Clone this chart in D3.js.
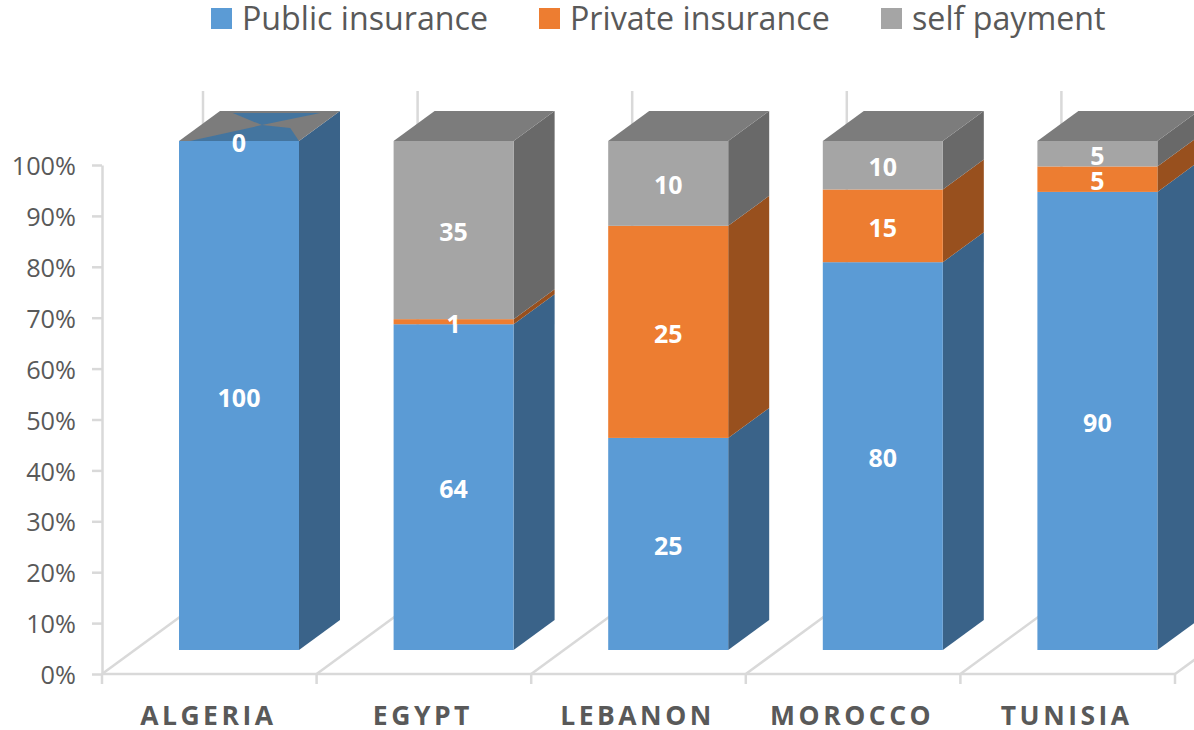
<!DOCTYPE html>
<html>
<head>
<meta charset="utf-8">
<script src="https://cdn.jsdelivr.net/npm/d3@7"></script>
<style>
html, body { margin: 0; padding: 0; background: #fff; overflow: hidden; }
svg { display: block; font-family: "Open Sans", sans-serif; }
.axis .domain, .axis line { stroke: #d9d9d9; stroke-width: 2.5; }
.axis text { fill: #595959; font-family: "Open Sans", sans-serif; font-size: 25.3px; }
.grid { stroke: #d9d9d9; stroke-width: 2.5; fill: none; }
.catLabel { fill: #595959; font-size: 26.5px; font-weight: 700; letter-spacing: 3.5px; text-anchor: middle; }
.barLabel { fill: #fff; font-size: 25px; font-weight: 700; text-anchor: middle; }
.legendText { fill: #595959; font-size: 32.2px; }
</style>
</head>
<body>
<script>
//chart values
var categories = ["ALGERIA", "EGYPT", "LEBANON", "MOROCCO", "TUNISIA"];
var publicInsurance = [100, 64, 25, 80, 90];
var privateInsurance = [0, 1, 25, 15, 5];
var selfPayment = [0, 35, 10, 10, 5];
var seriesNames = ["Public insurance", "Private insurance", "self payment"];
var percentTicks = [0, 0.1, 0.2, 0.3, 0.4, 0.5, 0.6, 0.7, 0.8, 0.9, 1];

//colours per series: front, side, top
var frontColors = ["#5b9bd5", "#ed7d31", "#a5a5a5"];
var sideColors = ["#3a6389", "#98501e", "#696969"];
var topColor = "#7c7c7c";
var topBlue = "#44759f";

//frame and 3d layout
var width = 1194,
    height = 730;
var depthX = 41,
    depthY = 30;
var barWidth = 120,
    barOffset = 77;
var wallX = 101,
    wallY = 74;

var map = d3.select("body")
    .append("svg")
    .attr("width", width)
    .attr("height", height);

//scales: the axis sits in front of the bars, so each gets its own y range
var x = d3.scaleBand().domain(categories).range([102, 1175]);
var yAxisScale = d3.scaleLinear().domain([0, 1]).range([674, 165]);
var yBar = d3.scaleLinear().domain([0, 1]).range([650, 141]);

//stack the three series as shares of each country's total
var rows = categories.map(function(c, i){
    return { category: c, 0: publicInsurance[i], 1: privateInsurance[i], 2: selfPayment[i] };
});
var stack = d3.stack().keys([0, 1, 2]).offset(d3.stackOffsetExpand);
var stacked = stack(rows);

//floor lines and back wall stubs, one for every category boundary
var bounds = categories.map(function(c){ return x(c); }).concat([x.range()[1]]);
var line = d3.line();

map.selectAll(".floorLine")
    .data(bounds)
    .enter()
    .append("path")
    .attr("class", "grid floorLine")
    .attr("d", function(d){
        return line([[d, yAxisScale(0)], [d + wallX, yAxisScale(0) - wallY]]);
    });

map.selectAll(".wallLine")
    .data(bounds)
    .enter()
    .append("path")
    .attr("class", "grid wallLine")
    .attr("d", function(d){
        return line([[d + wallX, yAxisScale(0) - wallY], [d + wallX, yAxisScale(1) - wallY]]);
    });

//left axis
var leftAxis = map.append("g")
    .attr("class", "axis")
    .attr("transform", "translate(102,0)")
    .call(d3.axisLeft(yAxisScale).tickValues(percentTicks).tickFormat(d3.format(".0%")).tickSize(10).tickSizeOuter(0).tickPadding(16));
leftAxis.selectAll("text").attr("dy", "0.38em");

//bottom axis: ticks at the category boundaries, so labels are added separately
var bottom = map.append("g")
    .attr("class", "axis")
    .attr("transform", "translate(0," + yAxisScale(0) + ")");
bottom.append("path")
    .attr("class", "domain")
    .attr("d", line([[x.range()[0], 0], [x.range()[1], 0]]));
bottom.selectAll("line")
    .data(bounds)
    .enter()
    .append("line")
    .attr("x1", function(d){ return d; })
    .attr("x2", function(d){ return d; })
    .attr("y1", 0)
    .attr("y2", 10);

map.selectAll(".catLabel")
    .data(categories)
    .enter()
    .append("text")
    .attr("class", "catLabel")
    .attr("x", function(d){ return x(d) + x.bandwidth() / 2 - 1; })
    .attr("y", 724.5)
    .text(function(d){ return d; });

//bars, left to right
function barLeft(c){ return x(c) + barOffset; }

var bars = map.selectAll(".bar")
    .data(categories)
    .enter()
    .append("g")
    .attr("class", "bar");

bars.each(function(c, i){
    var g = d3.select(this);
    var left = barLeft(c);
    var right = left + barWidth;

    stacked.forEach(function(s, k){
        var y0 = yBar(s[i][0]),
            y1 = yBar(s[i][1]);
        if (s[i][1] === s[i][0]) return;
        //side face
        g.append("path")
            .attr("fill", sideColors[k])
            .attr("d", line([[right, y0], [right + depthX, y0 - depthY], [right + depthX, y1 - depthY], [right, y1]]) + "Z");
        //front face
        g.append("rect")
            .attr("x", left)
            .attr("y", y1)
            .attr("width", barWidth)
            .attr("height", y0 - y1)
            .attr("fill", frontColors[k]);
    });

    //top face
    var top = yBar(1);
    var face = function(u, v){ return [left + u * barWidth + v * depthX, top - v * depthY]; };
    g.append("path")
        .attr("fill", topColor)
        .attr("d", line([face(0, 0), face(1, 0), face(1, 1), face(0, 1)]) + "Z");

    //Algeria has zero-height segments on top, which show as a bow tie on the lid
    if (selfPayment[i] === 0) {
        g.append("path")
            .attr("fill", topBlue)
            .attr("d", line([face(0.13, 0.93), face(0.86, 0.93), face(0.51, 0.53)]) + "Z");
        g.append("path")
            .attr("fill", topBlue)
            .attr("d", line([face(0.09, 0), face(0.51, 0.53), face(0.78, 0.43), face(1, 0)]) + "Z");
    }
});

//value labels
stacked.forEach(function(s, k){
    map.selectAll(".barLabel" + k)
        .data(s)
        .enter()
        .filter(function(d){ return k === 0 || d.data[k] > 0; })
        .append("text")
        .attr("class", "barLabel barLabel" + k)
        .attr("x", function(d){ return barLeft(d.data.category) + barWidth / 2; })
        .attr("y", function(d){ return (yBar(d[0]) + yBar(d[1])) / 2 + 11; })
        .text(function(d){ return d.data[k]; });
});

//the zero label on Algeria's lid
map.append("text")
    .attr("class", "barLabel")
    .attr("x", barLeft(categories[0]) + barWidth / 2)
    .attr("y", yBar(1) + 11)
    .text(selfPayment[0]);

//legend
var legendX = [211, 539, 881];
var legend = map.selectAll(".legend")
    .data(seriesNames)
    .enter()
    .append("g")
    .attr("class", "legend")
    .attr("transform", function(d, i){ return "translate(" + legendX[i] + ",8)"; });
legend.append("rect")
    .attr("width", 21)
    .attr("height", 21)
    .attr("fill", function(d, i){ return frontColors[i]; });
legend.append("text")
    .attr("class", "legendText")
    .attr("x", 31)
    .attr("y", 22)
    .text(function(d){ return d; });
</script>
</body>
</html>
